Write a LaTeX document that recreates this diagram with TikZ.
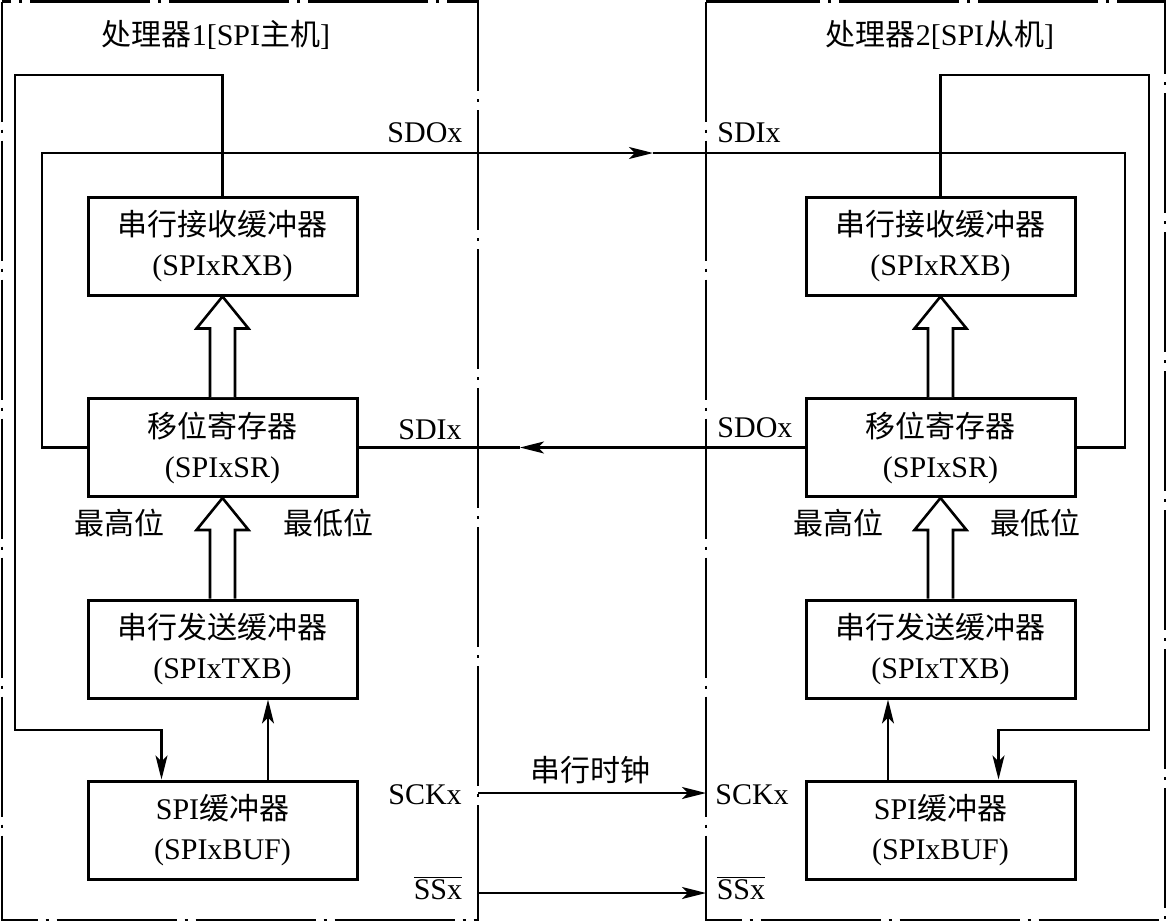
\documentclass[tikz,border=0pt]{standalone}
\usepackage{fontspec}
\setmainfont{Liberation Serif}
\newfontfamily\cjk{Noto Sans CJK SC}
\usetikzlibrary{arrows.meta}

\newcommand{\cn}[1]{{\cjk #1}}
% hollow arrow from the north of #1 up to the south of #2
\newcommand{\hollowup}[2]{%
  \draw[hollow] ([xshift=-6.25pt]#1.north) -- ([xshift=-6.25pt,yshift=-16pt]#2.south)
    -- ([xshift=-13pt,yshift=-16pt]#2.south) -- (#2.south)
    -- ([xshift=13pt,yshift=-16pt]#2.south) -- ([xshift=6.25pt,yshift=-16pt]#2.south)
    -- ([xshift=6.25pt]#1.north);}

\tikzset{
  blk/.style={draw, line width=1.5pt, minimum width=134.5pt, minimum height=49pt,
    align=center, font=\fontsize{15}{20}\selectfont},
  lbl/.style={font=\fontsize{15}{18}\selectfont},
  wire/.style={line width=1.2pt},
  arr/.style={wire, -{Stealth[length=12pt,width=6pt,inset=3pt]}},
  frame/.style={line width=1.1pt, dash pattern=on 60pt off 4pt on 1.5pt off 4pt},
  hollow/.style={line width=1.3pt, fill=white, line join=miter},
}

\begin{document}
\begin{tikzpicture}[x=0.5pt,y=-0.5pt]
  \useasboundingbox (0,0) rectangle (1169,922);
  % processor frames
  \draw[frame] (2,1.5) rectangle (478,920);
  \draw[frame] (706,1.5) rectangle (1165,920);
  \node[lbl] (titleA) at (216,35) {\cn{处理器}1[SPI\cn{主机}]};
  \node[lbl] (titleB) at (940,35) {\cn{处理器}2[SPI\cn{从机}]};

  % master
  \node[blk] (rxbA) at (222.5,246) {\cn{串行接收缓冲器}\\(SPIxRXB)};
  \node[blk] (srA) at (222.5,447.5) {\cn{移位寄存器}\\(SPIxSR)};
  \node[blk] (txbA) at (222.5,649) {\cn{串行发送缓冲器}\\(SPIxTXB)};
  \node[blk] (bufA) at (222.5,830) {SPI\cn{缓冲器}\\(SPIxBUF)};
  \hollowup{srA}{rxbA}
  \hollowup{txbA}{srA}
  \node[lbl] (msbA) at (120,523) {\cn{最高位}};
  \node[lbl] (lsbA) at (328,523) {\cn{最低位}};

  % slave
  \node[blk] (rxbB) at (940.5,246) {\cn{串行接收缓冲器}\\(SPIxRXB)};
  \node[blk] (srB) at (940.5,447.5) {\cn{移位寄存器}\\(SPIxSR)};
  \node[blk] (txbB) at (940.5,649) {\cn{串行发送缓冲器}\\(SPIxTXB)};
  \node[blk] (bufB) at (940.5,830) {SPI\cn{缓冲器}\\(SPIxBUF)};
  \hollowup{srB}{rxbB}
  \hollowup{txbB}{srB}
  \node[lbl] (msbB) at (838,523) {\cn{最高位}};
  \node[lbl] (lsbB) at (1035,523) {\cn{最低位}};

  % buffer loops
  \draw[arr] (rxbA.north) |- (15,75) -- (15,730) -| ([xshift=37.5pt]bufA.north west);
  \draw[arr] ([xshift=22.75pt]bufA.north) -- ([xshift=22.75pt]txbA.south);
  \draw[arr] (rxbB.north) |- (1149,75) -- (1149,730) -| ([xshift=-39pt]bufB.north east);
  \draw[arr] ([xshift=-26.25pt]bufB.north) -- ([xshift=-26.25pt]txbB.south);

  % SDO -> SDI
  \coordinate (sdoMid) at (653,153);
  \draw[arr] (srA.west) -| (42,153) -- (sdoMid);
  \draw[wire] (sdoMid) -- (1125,153) |- (srB.east);
  \node[lbl] (sdoA) at (425,133) {SDOx};
  \node[lbl] (sdiB) at (749,133) {SDIx};

  % SDO <- SDI
  \coordinate (sdiMid) at (520,447.5);
  \draw[arr] (srB.west) -- (sdiMid);
  \draw[wire] (sdiMid) -- (srA.east);
  \node[lbl] (sdiA) at (430,430) {SDIx};
  \node[lbl] (sdoB) at (755,428) {SDOx};

  % clock and slave select
  \coordinate (sckA) at (478,793);
  \coordinate (sckB) at (706,793);
  \coordinate (ssA) at (478,893);
  \coordinate (ssB) at (706,893);
  \draw[arr] (sckA) -- (sckB);
  \draw[arr] (ssA) -- (ssB);
  \node[lbl] (clk) at (590,770) {\cn{串行时钟}};
  \node[lbl] (sckAl) at (425,795) {SCKx};
  \node[lbl] (sckBl) at (752,795) {SCKx};
  \node[lbl] (ssAl) at (438,888) {$\overline{\hbox{SSx}}$};
  \node[lbl] (ssBl) at (741,888) {$\overline{\hbox{SSx}}$};
\end{tikzpicture}
\end{document}
